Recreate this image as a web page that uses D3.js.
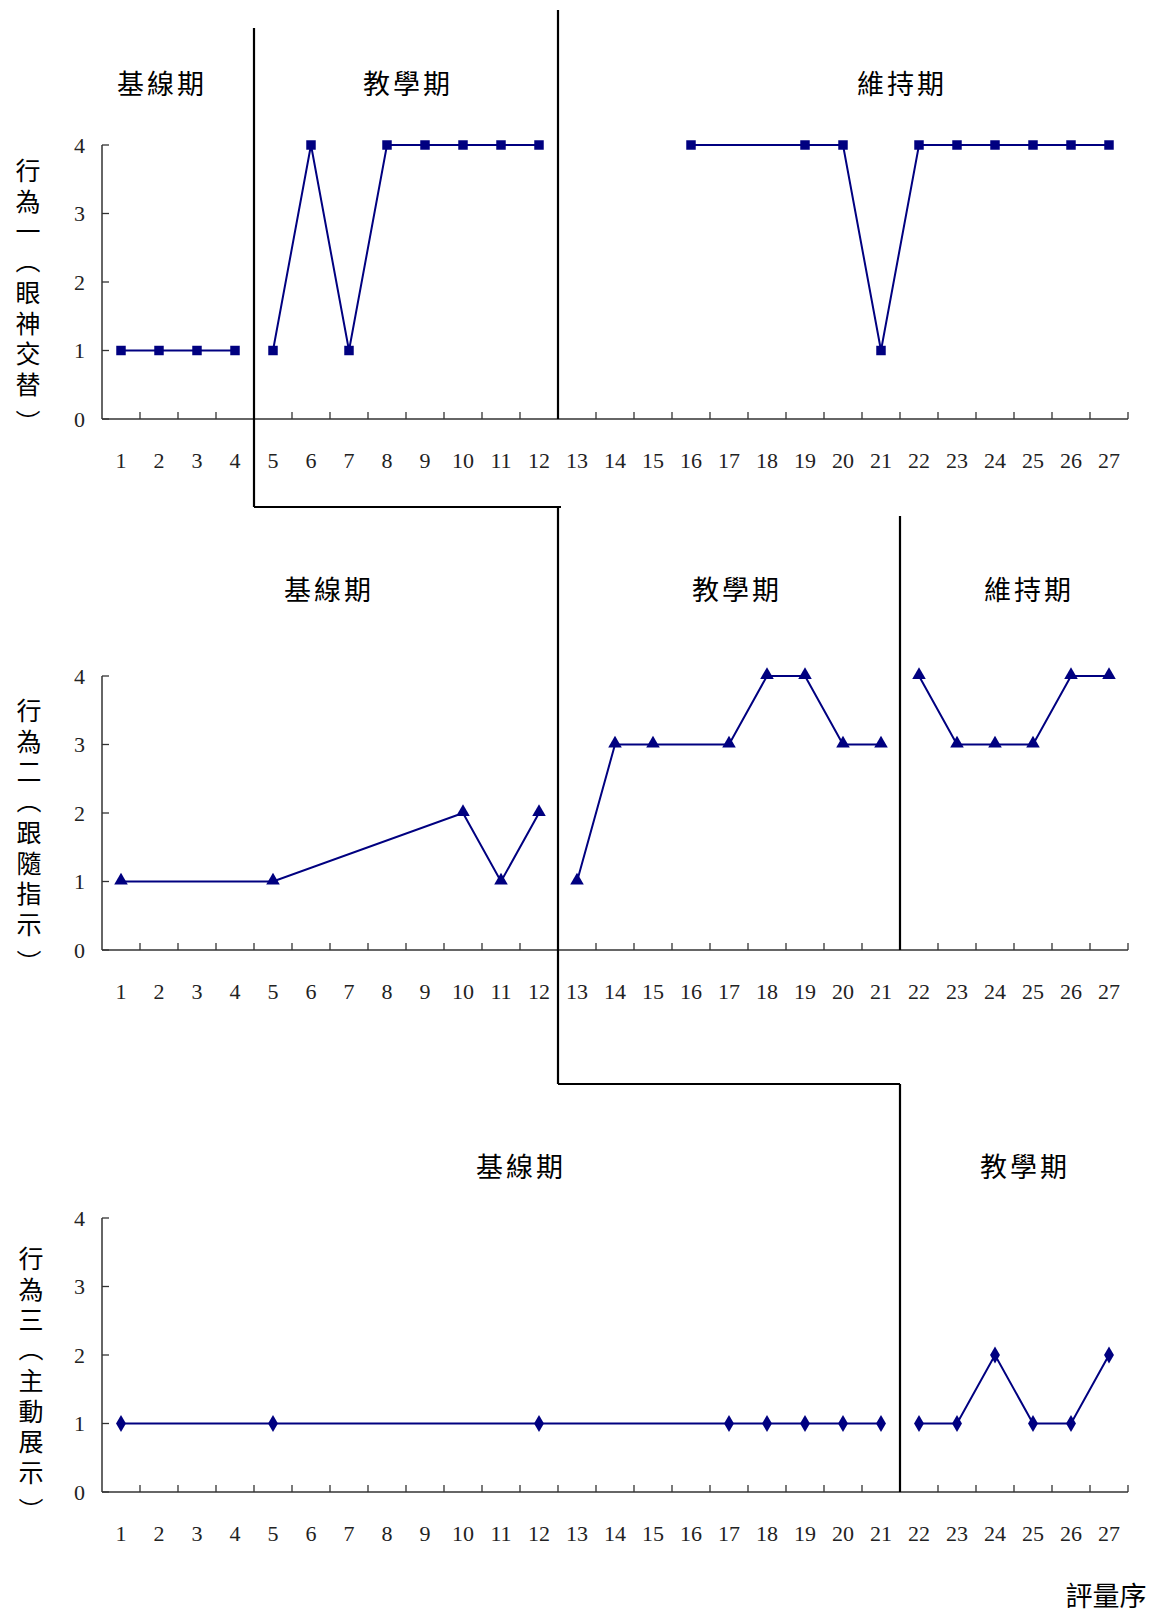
<!DOCTYPE html>
<html>
<head>
<meta charset="utf-8">
<script src="https://cdn.jsdelivr.net/npm/d3@7"></script>
<style>
  html, body { margin: 0; padding: 0; background: #fff; }
  svg { display: block; }
</style>
</head>
<body>
<svg id="chart" width="1161" height="1614"></svg>
<script>
// ---------------- DATA ----------------
const sessions = d3.range(1, 28); // 評量序 1..27
const yTicks = [0, 1, 2, 3, 4];

const behavior1Label = "行為一（眼神交替）";
const behavior2Label = "行為二（跟隨指示）";
const behavior3Label = "行為三（主動展示）";

// null = not measured
const behavior1 = [1, 1, 1, 1, 1, 4, 1, 4, 4, 4, 4, 4, null, null, null, 4, null, null, 4, 4, 1, 4, 4, 4, 4, 4, 4];
const behavior2 = [1, null, null, null, 1, null, null, null, null, 2, 1, 2, 1, 3, 3, null, 3, 4, 4, 3, 3, 4, 3, 3, 3, 4, 4];
const behavior3 = [1, null, null, null, 1, null, null, null, null, null, null, 1, null, null, null, null, 1, 1, 1, 1, 1, 1, 1, 2, 1, 1, 2];

// phases: [first session, last session, name]
const phases1 = [[1, 4, "基線期"], [5, 12, "教學期"], [13, 27, "維持期"]];
const phases2 = [[1, 12, "基線期"], [13, 21, "教學期"], [22, 27, "維持期"]];
const phases3 = [[1, 21, "基線期"], [22, 27, "教學期"]];

const xAxisTitle = "評量序";

// ---------------- LAYOUT ----------------
const svg = d3.select("#chart");
const navy = "#000080";
const axisColor = "#333";
const numFont = "'Liberation Serif', 'DejaVu Serif', serif";
const cjkFont = "'Noto Sans CJK TC', 'Noto Sans CJK SC', sans-serif";

const x = d3.scaleBand().domain(sessions).range([102, 1128]).padding(0);
const cx = s => x(s) + x.bandwidth() / 2;
const edge = s => x(s);

const panels = [
  { data: behavior1, phases: phases1, label: behavior1Label, top: 145, bottom: 419, marker: "square",
    labelX: 28, labelTop: 158, phaseLabelY: 82, phaseLabelX: [162, 408, 902] },
  { data: behavior2, phases: phases2, label: behavior2Label, top: 676, bottom: 950, marker: "triangle",
    labelX: 29, labelTop: 698, phaseLabelY: 588, phaseLabelX: [329, 737, 1029] },
  { data: behavior3, phases: phases3, label: behavior3Label, top: 1218, bottom: 1492, marker: "diamond",
    labelX: 31, labelTop: 1246, phaseLabelY: 1165, phaseLabelX: [521, 1025] }
];

const symbolTypes = { square: d3.symbolSquare, triangle: d3.symbolTriangle, diamond: d3.symbolDiamond };
const symbolSizes = { square: 90, triangle: 80, diamond: 85 };
const labelPitch = 30.5;

panels.forEach(p => {
  const y = d3.scaleLinear().domain([0, 4]).range([p.bottom, p.top]);
  const g = svg.append("g");

  g.append("line").attr("x1", x.range()[0]).attr("x2", x.range()[0])
    .attr("y1", y(4)).attr("y2", y(0)).attr("stroke", axisColor).attr("stroke-width", 1.5);
  yTicks.forEach(t => {
    g.append("line").attr("x1", x.range()[0]).attr("x2", x.range()[0] + 7)
      .attr("y1", y(t)).attr("y2", y(t)).attr("stroke", axisColor).attr("stroke-width", 1.3);
    g.append("text").attr("x", x.range()[0] - 17).attr("y", y(t))
      .attr("text-anchor", "end").attr("dominant-baseline", "central")
      .attr("font-family", numFont).attr("font-size", 22).attr("fill", "#222")
      .text(t);
  });

  g.append("line").attr("x1", x.range()[0]).attr("x2", x.range()[1])
    .attr("y1", y(0)).attr("y2", y(0)).attr("stroke", axisColor).attr("stroke-width", 1.5);
  sessions.forEach(s => {
    if (s === 1) return;
    g.append("line").attr("x1", edge(s)).attr("x2", edge(s))
      .attr("y1", y(0)).attr("y2", y(0) - 7).attr("stroke", axisColor).attr("stroke-width", 1.3);
  });
  g.append("line").attr("x1", x.range()[1]).attr("x2", x.range()[1])
    .attr("y1", y(0)).attr("y2", y(0) - 7).attr("stroke", axisColor).attr("stroke-width", 1.3);
  sessions.forEach(s => {
    g.append("text").attr("x", cx(s)).attr("y", y(0) + 41)
      .attr("text-anchor", "middle").attr("dominant-baseline", "central")
      .attr("font-family", numFont).attr("font-size", 22).attr("fill", "#222")
      .text(s);
  });

  Array.from(p.label).forEach((ch, i) => {
    const shift = ch === "）" ? 8 : (ch === "（" ? -2 : 0);
    g.append("text")
      .attr("x", p.labelX).attr("y", p.labelTop + i * labelPitch + shift)
      .style("writing-mode", "vertical-rl")
      .attr("font-family", cjkFont).attr("font-size", 25).attr("fill", "#000")
      .text(ch);
  });

  p.phases.forEach((ph, i) => {
    g.append("text").attr("x", p.phaseLabelX[i]).attr("y", p.phaseLabelY)
      .attr("text-anchor", "middle").attr("dominant-baseline", "central")
      .style("letter-spacing", "3px")
      .attr("font-family", cjkFont).attr("font-size", 27).attr("fill", "#000")
      .text(ph[2]);
  });

  const line = d3.line().x(d => cx(d.s)).y(d => y(d.v));
  p.phases.forEach(ph => {
    const pts = sessions.map((s, i) => ({ s, v: p.data[i] }))
      .filter(d => d.s >= ph[0] && d.s <= ph[1] && d.v !== null);
    g.append("path").datum(pts).attr("d", line)
      .attr("fill", "none").attr("stroke", navy).attr("stroke-width", 2);
  });

  const sym = d3.symbol().type(symbolTypes[p.marker]).size(symbolSizes[p.marker]);
  sessions.forEach((s, i) => {
    const v = p.data[i];
    if (v === null) return;
    const dy = p.marker === "triangle" ? -1 : 0;
    g.append("path").attr("d", sym())
      .attr("transform", `translate(${cx(s)},${y(v) + dy})`)
      .attr("fill", navy);
  });
});

// ---------------- PHASE CHANGE LINES ----------------
const pl = svg.append("g").attr("stroke", "#000").attr("stroke-width", 2.2).attr("fill", "none");
const b5 = edge(5), b13 = edge(13), b22 = edge(22);
const seg = (x1, y1, x2, y2) => pl.append("line").attr("x1", x1).attr("y1", y1).attr("x2", x2).attr("y2", y2);
seg(b5, 28, b5, 507);
seg(b13, 10, b13, 419);
seg(b5, 507, b13 + 3, 507);
seg(b13, 507, b13, 1084);
seg(b22, 516, b22, 950);
seg(b13, 1084, b22, 1084);
seg(b22, 1084, b22, 1492);

svg.append("text").attr("x", 1106).attr("y", 1594)
  .attr("text-anchor", "middle").attr("dominant-baseline", "central")
  .attr("font-family", cjkFont).attr("font-size", 27).attr("fill", "#000")
  .text(xAxisTitle);
</script>
</body>
</html>
